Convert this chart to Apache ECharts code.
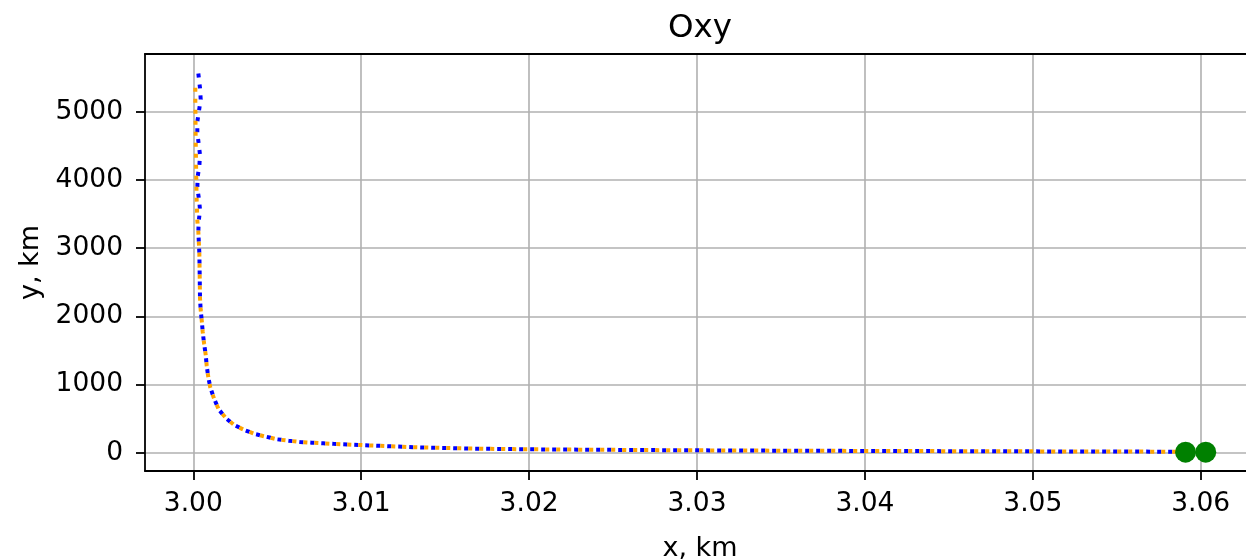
<!DOCTYPE html>
<html>
<head>
<meta charset="utf-8">
<script src="https://cdn.jsdelivr.net/npm/echarts@6/dist/echarts.min.js"></script>
<style>
html,body{margin:0;padding:0;background:#fff;}
#chart{width:1246px;height:560px;}
</style>
</head>
<body>
<div id="chart"></div>
<script>
const titleText = 'Oxy';
const xName = 'x, km';
const yName = 'y, km';
const xTicks = [3.00, 3.01, 3.02, 3.03, 3.04, 3.05, 3.06];
const yTicks = [0, 1000, 2000, 3000, 4000, 5000];

const orangeX = [3.00012,3.00012,3.00013,3.00014,3.00016,3.00018,3.0002,3.00024,
  3.0003,3.00036,3.00038,3.0004,3.00044,3.0005,3.00056,3.00064,3.00074,3.0008,3.00089,3.00101,
  3.00123,3.00151,3.00195,3.00244,3.00304,3.00367,3.00433,3.005,3.00568,3.00636,3.00705,3.00774,
  3.00834,3.00993,3.0133,3.01668,3.02005,3.0262,3.03,3.035,3.04,3.045,3.05,3.055,3.0591];
const orangeY = [5440,5200,4900,4600,4300,4000,3700,3400,
  3240,2924,2606,2264,2092,1946,1774,1604,1433,1271,1114,959,
  798,636,504,406,333,274,235,196,176,158,147,138,
  130,113,79,60,50,40,35,30,26,23,20,17,15];

const blueX = [3.0003,3.0004,3.00044,3.00034,3.00024,3.00024,3.0004,3.00036,3.00026,3.00024,3.00034,3.0004,3.00032,
  3.0003,3.00036,3.00038,3.0004,3.00044,3.0005,3.00056,3.00064,3.00074,3.0008,3.00089,3.00101,
  3.00123,3.00151,3.00195,3.00244,3.00304,3.00367,3.00433,3.005,3.00568,3.00636,3.00705,3.00774,
  3.00834,3.00993,3.0133,3.01668,3.02005,3.0262,3.03,3.035,3.04,3.045,3.05,3.055,3.0591];
const blueY = [5560,5343,5182,5015,4853,4692,4365,4204,4047,3877,3716,3559,3387,
  3240,2924,2606,2264,2092,1946,1774,1604,1433,1271,1114,959,
  798,636,504,406,333,274,235,196,176,158,147,138,
  130,113,79,60,50,40,35,30,26,23,20,17,15];

const pointX = [3.0591, 3.0603];
const pointY = [8, 8];

const zip = (xs, ys) => xs.map((x, i) => [x, ys[i]]);
const font = 'DejaVu Sans';

const chart = echarts.init(document.getElementById('chart'), null, {renderer: 'canvas'});
chart.setOption({
  animation: false,
  backgroundColor: '#fff',
  graphic: [{
    type: 'text', x: 700, y: 12,
    style: {text: titleText, font: '32.5px "DejaVu Sans"', fill: '#000', textAlign: 'center', textVerticalAlign: 'top'}
  }],
  grid: {left: 145, top: 54, width: 1110, height: 417, show: false, outerBoundsMode: 'none', containLabel: false},
  xAxis: [{
    type: 'value', min: 2.997123, max: 3.063235,
    name: xName, nameLocation: 'middle', nameGap: 64,
    nameTextStyle: {fontFamily: font, fontSize: 27, color: '#000'},
    axisLine: {show: true, onZero: false, lineStyle: {color: '#000', width: 1.8}},
    axisTick: {show: true, length: 9, lineStyle: {color: '#000', width: 1.8}, customValues: xTicks},
    axisLabel: {fontFamily: font, fontSize: 26.5, color: '#000', margin: 19.5, customValues: xTicks,
      formatter: v => v.toFixed(2)},
    splitLine: {show: true, lineStyle: {color: '#b0b0b0', width: 1.6}}
  }, {
    type: 'value', position: 'top', min: 2.997123, max: 3.063235,
    axisLine: {show: true, onZero: false, lineStyle: {color: '#000', width: 1.8}},
    axisTick: {show: false}, axisLabel: {show: false}, splitLine: {show: false}
  }],
  yAxis: {
    type: 'value', min: -268, max: 5846,
    name: yName, nameLocation: 'middle', nameGap: 98, nameRotate: 90,
    nameTextStyle: {fontFamily: font, fontSize: 27, color: '#000'},
    axisLine: {show: true, onZero: false, lineStyle: {color: '#000', width: 1.8}},
    axisTick: {show: true, length: 9, lineStyle: {color: '#000', width: 1.8}, customValues: yTicks},
    axisLabel: {fontFamily: font, fontSize: 26.5, color: '#000', margin: 22, customValues: yTicks,
      formatter: v => String(v)},
    splitLine: {show: true, lineStyle: {color: '#b0b0b0', width: 1.6}}
  },
  series: [
    {type: 'line', data: zip(blueX, blueY), showSymbol: false, smooth: false, z: 3,
      lineStyle: {color: '#0000ff', width: 4, type: [4, 7], cap: 'butt'}},
    {type: 'line', data: zip(orangeX, orangeY), showSymbol: false, smooth: false, z: 4,
      lineStyle: {color: '#ffa500', width: 4, type: [4, 7], cap: 'butt', dashOffset: 5}},
    {type: 'scatter', data: zip(pointX, pointY), symbolSize: 21, z: 5,
      itemStyle: {color: '#008000', opacity: 1}}
  ]
});
</script>
</body>
</html>
